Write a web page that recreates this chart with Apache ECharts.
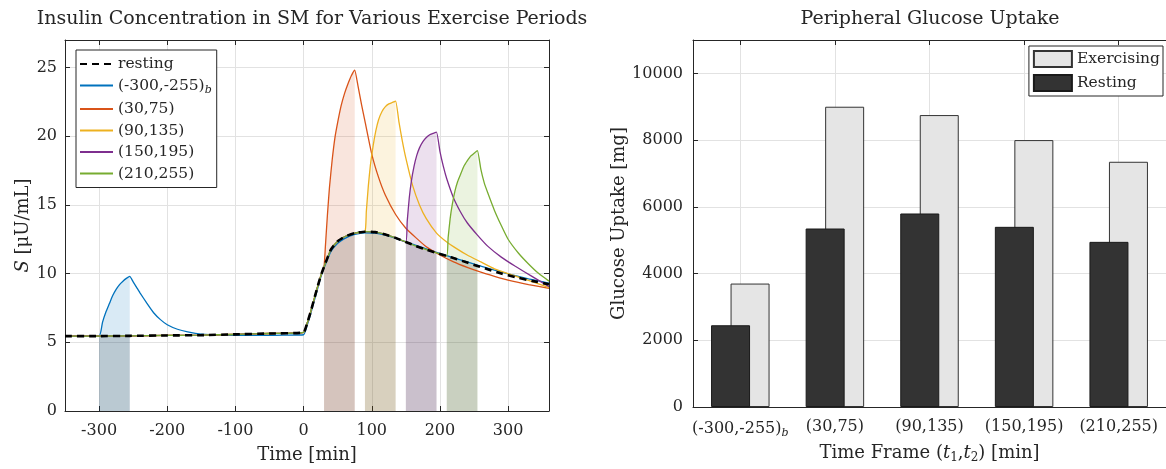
<!DOCTYPE html>
<html>
<head>
<meta charset="utf-8">
<script src="https://cdn.jsdelivr.net/npm/echarts@6/dist/echarts.min.js"></script>
<style>html,body{margin:0;padding:0;background:#fff;}#c{width:1166px;height:469px;}</style>
</head>
<body>
<div id="c"></div>
<script>
// ---------- Left plot data: insulin concentration S [µU/mL] vs time [min] ----------
const X_TICKS = [-300, -200, -100, 0, 100, 200, 300];
const PERIOD_LABELS = ['(-300,-255)', '(30,75)', '(90,135)', '(150,195)', '(210,255)'];
const PERIOD_SUBS = ['b', '', '', '', ''];
const PERIOD_START = [-300, 30, 90, 150, 210];
const PERIOD_END = [-255, 75, 135, 195, 255];
const LINE_COLORS = ['#0072BD', '#D95319', '#EDB120', '#7E2F8E', '#77AC30'];

const T_REST = [-350, -300, -255, -200, -150, -100, -50, 0, 5, 10, 15, 20, 25, 30, 40, 50, 60, 75, 90, 105, 120, 135, 150, 165, 180, 195, 210, 225, 240, 255, 270, 290, 310, 335, 360];
const S_REST = [5.45, 5.45, 5.47, 5.50, 5.52, 5.58, 5.64, 5.72, 6.35, 7.15, 8.05, 8.95, 9.8, 10.5, 11.75, 12.35, 12.68, 12.95, 13.05, 13.02, 12.85, 12.6, 12.3, 12.0, 11.75, 11.5, 11.28, 11.05, 10.8, 10.55, 10.32, 10.0, 9.75, 9.47, 9.22];

const T_EX1 = [-350, -300, -295, -290, -285, -280, -275, -270, -265, -260, -255, -250, -245, -240, -230, -220, -210, -200, -185, -170, -150, -120, -90, -60, -30, 0, 5, 10, 15, 20, 25, 30, 40, 50, 60, 75, 90, 105, 120, 135, 150, 180, 210, 240, 270, 300, 330, 360];
const S_EX1 = [5.45, 5.45, 6.45, 7.2, 7.8, 8.4, 8.85, 9.2, 9.45, 9.65, 9.8, 9.4, 9.0, 8.6, 7.85, 7.15, 6.65, 6.28, 5.95, 5.76, 5.6, 5.52, 5.5, 5.5, 5.52, 5.55, 6.2, 7.0, 7.9, 8.8, 9.7, 10.4, 11.6, 12.2, 12.55, 12.85, 12.97, 12.95, 12.8, 12.57, 12.3, 11.8, 11.3, 10.85, 10.4, 9.98, 9.62, 9.3];

const T_EX2 = [30, 32, 35, 38, 42, 46, 50, 55, 60, 65, 70, 75, 80, 85, 90, 100, 110, 120, 135, 150, 165, 180, 200, 220, 240, 260, 280, 300, 330, 360];
const S_EX2 = [10.5, 12.0, 14.3, 16.3, 18.3, 19.9, 21.0, 22.2, 23.1, 23.8, 24.4, 24.8, 23.6, 22.3, 21.1, 18.7, 17.0, 15.7, 14.3, 13.3, 12.6, 11.95, 11.35, 10.85, 10.45, 10.1, 9.8, 9.52, 9.2, 8.93];

const T_EX3 = [90, 92, 95, 98, 102, 106, 110, 115, 120, 125, 130, 135, 140, 145, 150, 160, 170, 180, 195, 210, 225, 240, 260, 280, 300, 330, 360];
const S_EX3 = [13.05, 14.5, 16.4, 17.9, 19.3, 20.4, 21.2, 21.8, 22.15, 22.35, 22.45, 22.55, 21.0, 19.6, 18.4, 16.4, 15.0, 14.0, 12.95, 12.3, 11.8, 11.35, 10.85, 10.35, 10.0, 9.5, 8.98];

const T_EX4 = [150, 152, 155, 158, 162, 166, 170, 175, 180, 185, 190, 195, 200, 205, 210, 220, 230, 240, 255, 270, 290, 310, 335, 360];
const S_EX4 = [12.3, 13.8, 15.5, 16.7, 17.8, 18.6, 19.15, 19.6, 19.9, 20.1, 20.2, 20.3, 18.9, 17.8, 16.9, 15.5, 14.5, 13.7, 12.8, 12.0, 11.2, 10.55, 9.8, 9.05];

const T_EX5 = [210, 212, 215, 218, 222, 226, 230, 235, 240, 245, 250, 255, 260, 265, 270, 280, 290, 300, 315, 330, 345, 360];
const S_EX5 = [11.28, 12.6, 14.0, 15.0, 16.0, 16.7, 17.2, 17.8, 18.2, 18.55, 18.75, 18.95, 17.6, 16.6, 15.9, 14.6, 13.5, 12.5, 11.5, 10.7, 10.0, 9.45];

// ---------- Right plot data: peripheral glucose uptake [mg] ----------
const BAR_POS = [1, 2, 3, 4, 5];
const UPTAKE_RESTING = [2450, 5350, 5800, 5400, 4950];
const UPTAKE_EXERCISING = [3700, 9000, 8750, 8000, 7350];

// ---------- build ----------
const FONT = "'DejaVu Serif', 'Liberation Serif', serif";
const TXT = '#262626';
const AX = '#262626';
const GRIDC = '#e2e2e2';

const zip = (T, S) => T.map((t, i) => [t, S[i]]);
const restPts = zip(T_REST, S_REST);
const exTimes = [T_EX1, T_EX2, T_EX3, T_EX4, T_EX5];
const exVals = [S_EX1, S_EX2, S_EX3, S_EX4, S_EX5];
const exPts = exTimes.map((T, k) => {
  const own = zip(T, exVals[k]);
  const pre = restPts.filter(p => p[0] < T[0]);
  return pre.concat(own);
});
const legendName = k => PERIOD_LABELS[k] + (PERIOD_SUBS[k] ? '{sub|' + PERIOD_SUBS[k] + '}' : '');
const inRange = (pts, a, b) => pts.filter(p => p[0] >= a && p[0] <= b);

const series = [];
for (let k = 0; k < 5; k++) {
  series.push({
    type: 'line', xAxisIndex: 0, yAxisIndex: 0, silent: true, symbol: 'none', z: 1,
    data: inRange(exPts[k], PERIOD_START[k], PERIOD_END[k]),
    lineStyle: { opacity: 0 }, areaStyle: { color: LINE_COLORS[k], opacity: 0.15 }
  });
  series.push({
    type: 'line', xAxisIndex: 0, yAxisIndex: 0, silent: true, symbol: 'none', z: 1,
    data: inRange(restPts, PERIOD_START[k], PERIOD_END[k]),
    lineStyle: { opacity: 0 }, areaStyle: { color: '#000', opacity: 0.14 }
  });
}
for (let k = 0; k < 5; k++) {
  series.push({
    name: legendName(k), type: 'line', xAxisIndex: 0, yAxisIndex: 0, symbol: 'none', z: 3,
    smooth: 0.15, data: exPts[k],
    lineStyle: { color: LINE_COLORS[k], width: 1.3 }, itemStyle: { color: LINE_COLORS[k] }
  });
}
series.push({
  name: 'resting', type: 'line', xAxisIndex: 0, yAxisIndex: 0, symbol: 'none', z: 4,
  smooth: 0.15, data: restPts,
  lineStyle: { color: '#000', width: 2.6, type: [7, 5] }, itemStyle: { color: '#000' }
});
series.push({
  name: 'Resting', type: 'bar', xAxisIndex: 2, yAxisIndex: 2, barWidth: 39, barGap: '-50%', z: 3,
  data: zip(BAR_POS, UPTAKE_RESTING),
  itemStyle: { color: '#333333', borderColor: '#1a1a1a', borderWidth: 1 }
});
series.push({
  name: 'Exercising', type: 'bar', xAxisIndex: 2, yAxisIndex: 2, barWidth: 39, barGap: '-50%', z: 2,
  data: zip(BAR_POS, UPTAKE_EXERCISING),
  itemStyle: { color: '#e5e5e5', borderColor: '#333333', borderWidth: 1 }
});

const lbl = { fontFamily: FONT, fontSize: 16, color: TXT };
const legLbl = { fontFamily: FONT, fontSize: 15.5, color: TXT };
const nameLbl = { fontFamily: FONT, fontSize: 18, color: TXT };
const subRich = { sub: { fontFamily: FONT, fontSize: 11, fontStyle: 'italic', color: TXT, padding: [9, 0, 0, 0] } };

function mirrorAxis(base, pos) {
  return Object.assign({}, base, {
    position: pos, name: '', axisLabel: { show: false }, splitLine: { show: false }
  });
}

const xLeft = {
  type: 'value', gridIndex: 0, min: -350, max: 360,
  axisLine: { show: true, onZero: false, lineStyle: { color: AX, width: 1 } },
  axisTick: { show: true, inside: true, length: 5, customValues: X_TICKS, lineStyle: { color: AX } },
  axisLabel: Object.assign({ customValues: X_TICKS, margin: 12 }, lbl),
  splitLine: { show: true, lineStyle: { color: GRIDC, width: 1 } },
  name: 'Time [min]', nameLocation: 'middle', nameGap: 35, nameTextStyle: nameLbl
};
const yLeft = {
  type: 'value', gridIndex: 0, min: 0, max: 27, interval: 5,
  axisLine: { show: true, onZero: false, lineStyle: { color: AX, width: 1 } },
  axisTick: { show: true, inside: true, length: 5, lineStyle: { color: AX } },
  axisLabel: Object.assign({ showMaxLabel: false, margin: 8 }, lbl),
  splitLine: { show: true, lineStyle: { color: GRIDC, width: 1 } },
  name: '{i|S} [μU/mL]', nameLocation: 'middle', nameGap: 28,
  nameTextStyle: Object.assign({ rich: { i: Object.assign({ fontStyle: 'italic' }, nameLbl) } }, nameLbl)
};
const xRight = {
  type: 'value', gridIndex: 1, min: 0.5, max: 5.5,
  axisLine: { show: true, onZero: false, lineStyle: { color: AX, width: 1 } },
  axisTick: { show: true, inside: true, length: 5, customValues: BAR_POS, lineStyle: { color: AX } },
  axisLabel: Object.assign({
    customValues: BAR_POS, margin: 12,
    formatter: v => { const k = BAR_POS.indexOf(v); return k < 0 ? '' : legendName(k); },
    rich: subRich
  }, lbl),
  splitLine: { show: true, lineStyle: { color: GRIDC, width: 1 } },
  name: 'Time Frame ({i|t}{s|1},{i|t}{s|2}) [min]', nameLocation: 'middle', nameGap: 35,
  nameTextStyle: Object.assign({
    rich: {
      i: Object.assign({ fontStyle: 'italic' }, nameLbl),
      s: { fontFamily: FONT, fontSize: 12, color: TXT, padding: [10, 0, 0, 0] }
    }
  }, nameLbl)
};
const yRight = {
  type: 'value', gridIndex: 1, min: 0, max: 11000, interval: 2000,
  axisLine: { show: true, onZero: false, lineStyle: { color: AX, width: 1 } },
  axisTick: { show: true, inside: true, length: 5, lineStyle: { color: AX } },
  axisLabel: Object.assign({ showMaxLabel: false, margin: 10, formatter: v => String(v) }, lbl),
  splitLine: { show: true, lineStyle: { color: GRIDC, width: 1 } },
  name: 'Glucose Uptake [mg]', nameLocation: 'middle', nameGap: 60, nameTextStyle: nameLbl
};

const option = {
  animation: false,
  backgroundColor: '#fff',
  title: [
    { text: 'Insulin Concentration in SM for Various Exercise Periods', left: 307, top: 5, textAlign: 'center',
      textStyle: { fontFamily: FONT, fontSize: 19, fontWeight: 'normal', color: TXT } },
    { text: 'Peripheral Glucose Uptake', left: 925, top: 5, textAlign: 'center',
      textStyle: { fontFamily: FONT, fontSize: 19, fontWeight: 'normal', color: TXT } }
  ],
  grid: [
    { left: 65, top: 40, width: 484, height: 374 },
    { left: 693, top: 40, width: 479, height: 374 }
  ],
  xAxis: [xLeft, mirrorAxis(xLeft, 'top'), xRight, mirrorAxis(xRight, 'top')],
  yAxis: [yLeft, mirrorAxis(yLeft, 'right'), yRight],
  legend: [
    {
      data: ['resting'].concat(PERIOD_LABELS.map((_, k) => legendName(k))),
      orient: 'vertical', left: 76, top: 50, padding: [6, 5, 6, 3], itemGap: 5.5,
      itemWidth: 33, itemHeight: 14, backgroundColor: '#fff', borderColor: AX, borderWidth: 1, borderRadius: 0,
      itemStyle: { opacity: 0 },
      textStyle: Object.assign({ rich: subRich }, legLbl), selectedMode: false
    },
    {
      data: ['Exercising', 'Resting'],
      orient: 'vertical', right: 3, top: 46, padding: [4, 3, 4, 4], itemGap: 6,
      icon: 'rect', itemWidth: 38, itemHeight: 16, backgroundColor: '#fff', borderColor: AX, borderWidth: 1, borderRadius: 0,
      textStyle: legLbl, selectedMode: false
    }
  ],
  series: series
};

const chart = echarts.init(document.getElementById('c'), null, { renderer: 'canvas' });
chart.setOption(option);
</script>
</body>
</html>
